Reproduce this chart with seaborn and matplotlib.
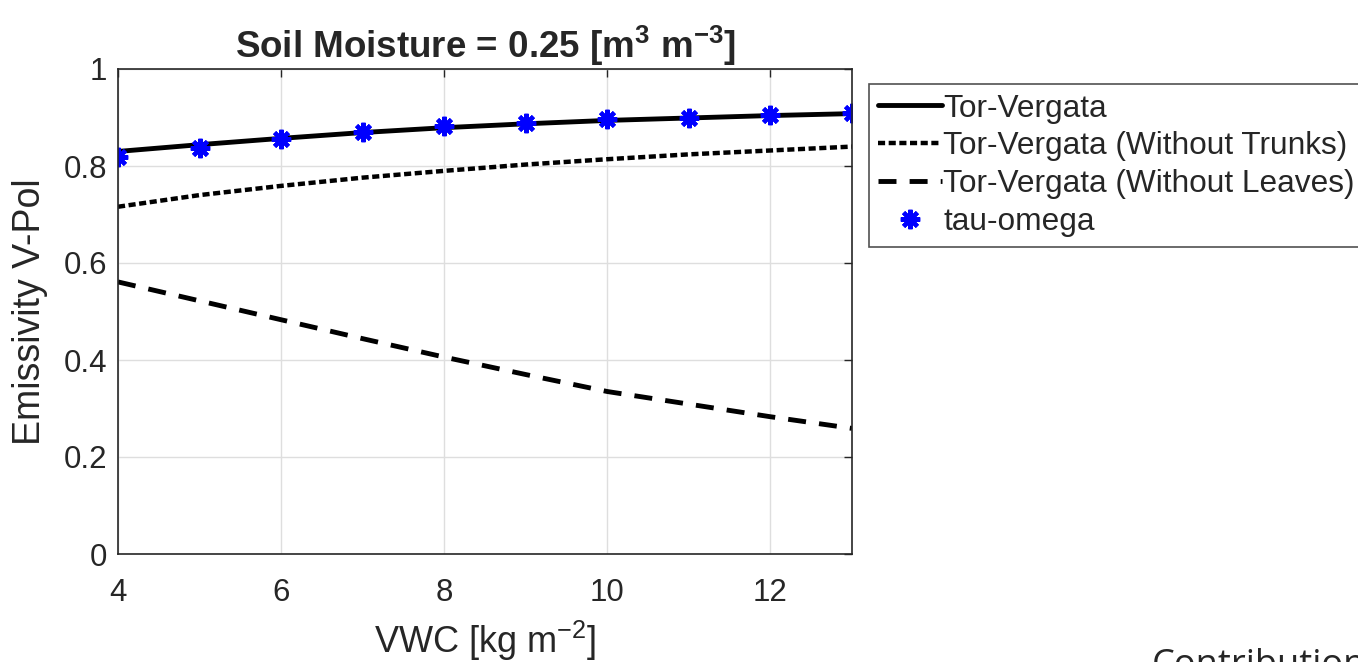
import matplotlib
matplotlib.use("Agg")
import matplotlib.pyplot as plt
import seaborn as sns
import numpy as np
import pandas as pd

vwc = [4, 5, 6, 7, 8, 9, 10, 11, 12, 13]
tor_vergata = [0.830, 0.844, 0.857, 0.869, 0.879, 0.887, 0.894, 0.899, 0.904, 0.908]
no_trunks = [0.716, 0.740, 0.759, 0.776, 0.790, 0.803, 0.814, 0.824, 0.832, 0.840]
no_leaves = [0.561, 0.522, 0.483, 0.444, 0.406, 0.370, 0.335, 0.309, 0.283, 0.259]
tau_omega = [0.819, 0.838, 0.855, 0.871, 0.883, 0.888, 0.897, 0.900, 0.906, 0.909]

labels = ["Tor-Vergata", "Tor-Vergata (Without Trunks)",
          "Tor-Vergata (Without Leaves)", "tau-omega"]
xticks = [4, 6, 8, 10, 12]
yticks = [0, 0.2, 0.4, 0.6, 0.8, 1]
yticklabels = ["0", "0.2", "0.4", "0.6", "0.8", "1"]

sns.set_theme(style="white")
plt.rcParams["font.family"] = ["Liberation Sans", "DejaVu Sans"]

fig = plt.figure(figsize=(13.58, 6.62), dpi=100)
ax = fig.add_axes([118/1358, 1-554/662, (852-118)/1358, (554-69)/662])

sns.lineplot(x=vwc, y=tor_vergata, ax=ax, color="black", lw=3.5,
             label=labels[0])
sns.lineplot(x=vwc, y=no_trunks, ax=ax, color="black", lw=3.2,
             linestyle=(0, (1.6, 0.8)), label=labels[1])
sns.lineplot(x=vwc, y=no_leaves, ax=ax, color="black", lw=3.5,
             linestyle=(0, (3.7, 2.7)), label=labels[2])
sns.lineplot(x=vwc, y=tau_omega, ax=ax, color="blue", linestyle="none",
             marker=(8, 2, 0), markersize=14, markeredgewidth=3.0,
             markeredgecolor="blue", label=labels[3])

ax.set_xlim(4, 13)
ax.set_ylim(0, 1)
ax.set_xticks(xticks)
ax.set_xticklabels([str(t) for t in xticks])
ax.set_yticks(yticks)
ax.set_yticklabels(yticklabels)
ax.grid(True, color="#dedede", lw=1)
ax.tick_params(direction="in", length=6, width=1, colors="#262626",
               labelsize=22.5, top=True, right=True)
ax.tick_params(axis="x", pad=17)
ax.tick_params(axis="y", pad=8)
for s in ax.spines.values():
    s.set_color("#262626")
    s.set_linewidth(1.2)
    s.set_visible(True)

ax.set_title(r"Soil Moisture = 0.25 [m$^{\mathregular{3}}$ m$^{\mathregular{-3}}$]",
             fontsize=26.5, fontweight="bold", pad=8)
ax.set_xlabel(r"VWC [kg m$^{\mathregular{-2}}$]", fontsize=26, color="#262626",
              labelpad=8)
ax.set_ylabel("Emissivity V-Pol", fontsize=27, color="#262626", labelpad=11)

leg = ax.legend(loc="upper left", bbox_to_anchor=(869/1358, 1-84/662),
                bbox_transform=fig.transFigure, fontsize=22.8, frameon=True,
                fancybox=False, edgecolor="#262626", handlelength=2.0,
                handletextpad=0.05, labelspacing=0.25, borderpad=0.3,
                borderaxespad=0)
leg.get_frame().set_linewidth(1.2)

fig.text(1152/1358, 1-648/662, "Contribution", fontsize=26,
         family=["Open Sans", "DejaVu Sans"], va="top", ha="left")

fig.savefig("out.png", dpi=100)
